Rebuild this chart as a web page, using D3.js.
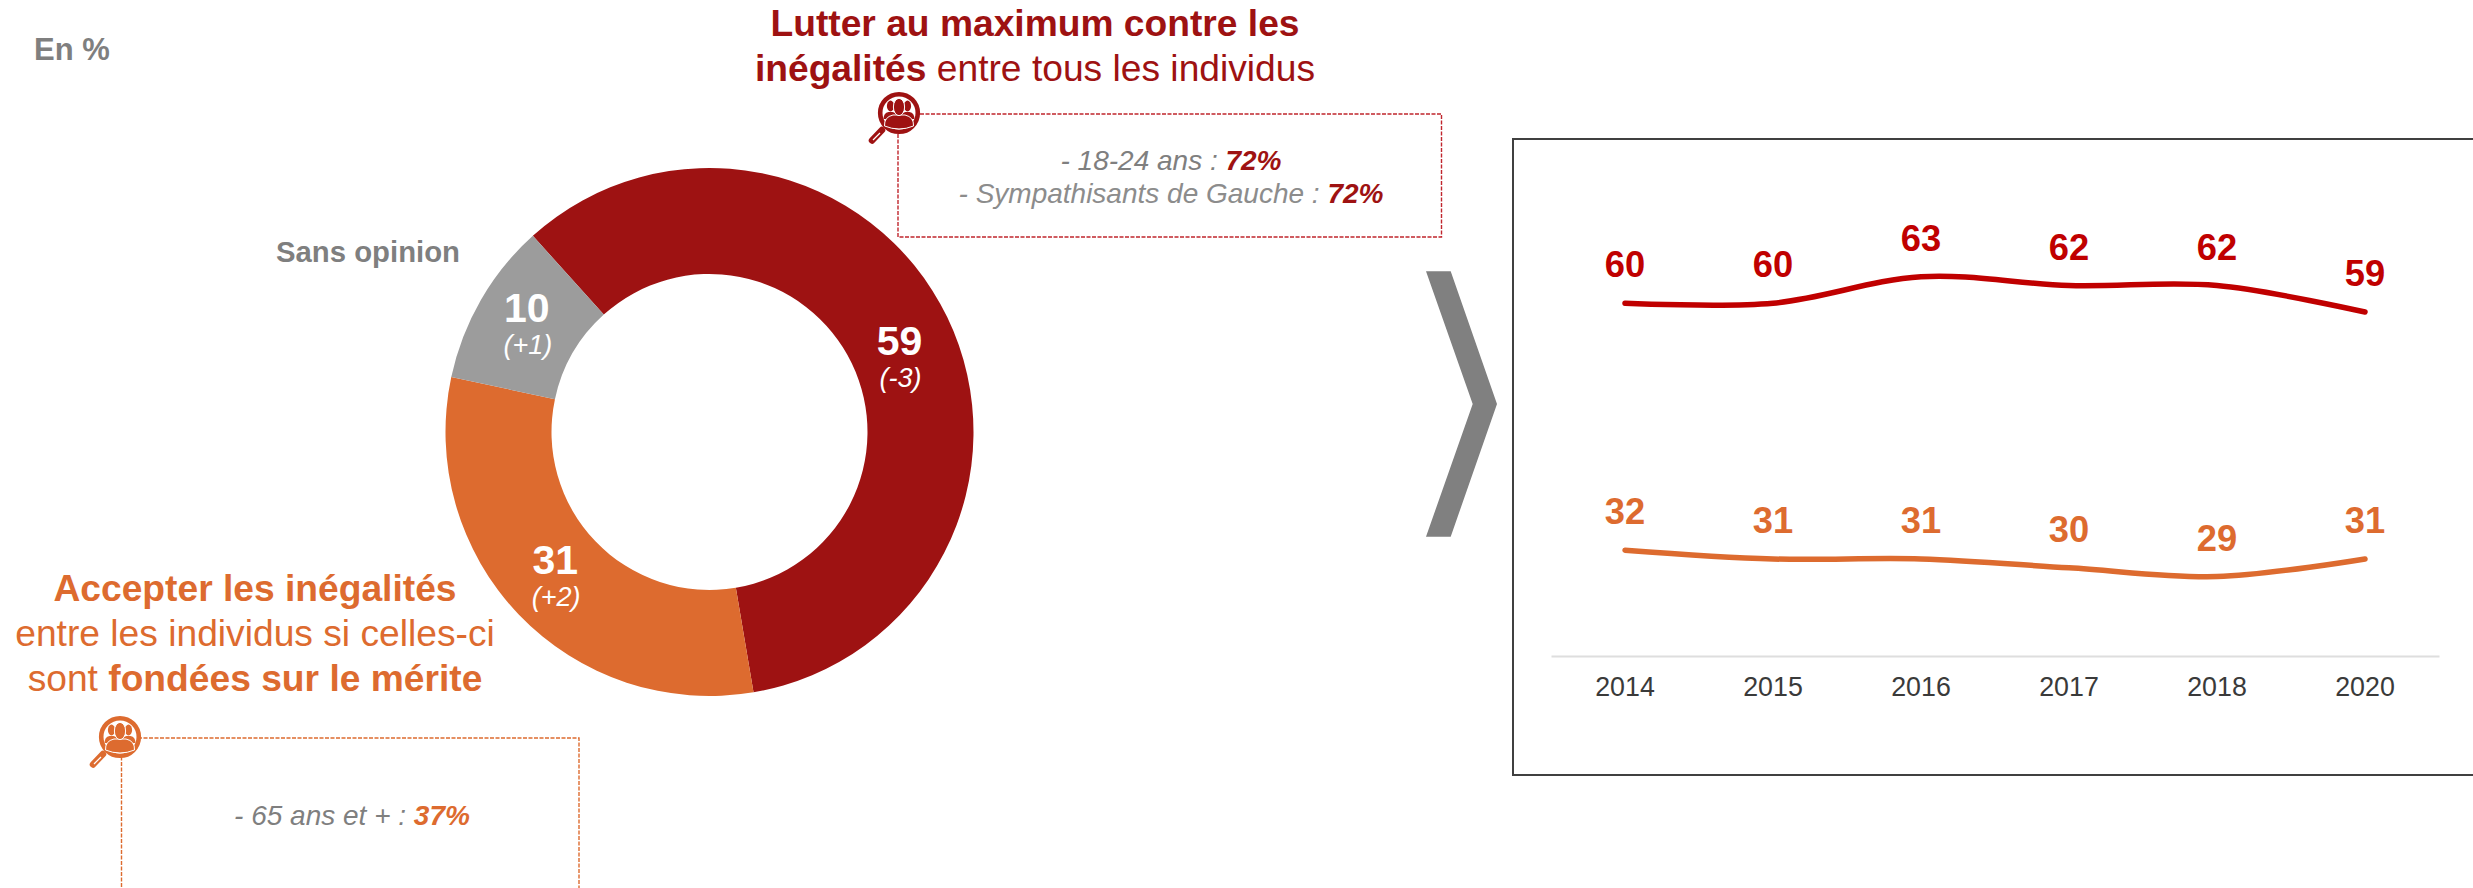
<!DOCTYPE html>
<html lang="fr">
<head>
<meta charset="utf-8">
<title>Inégalités</title>
<script src="https://cdn.jsdelivr.net/npm/d3@7"></script>
<style>
    html, body { margin: 0; padding: 0; background: #fff; overflow: hidden; }
    text { font-family: "Liberation Sans", Arial, sans-serif; }
</style>
</head>
<body>
<div id="chart"></div>
<script>
// Donut data (%)
const donutLabels = ["Lutter", "Accepter", "Sans opinion"];
const donutValues = [59, 31, 10];
const donutChanges = ["(-3)", "(+2)", "(+1)"];

// Trend data (%)
const years = ["2014", "2015", "2016", "2017", "2018", "2020"];
const lutterSeries = [60, 60, 63, 62, 62, 59];
const accepterSeries = [32, 31, 31, 30, 29, 31];

const width = 2473, height = 888;
const red = "#9e1212", orange = "#dd6b2f", grey = "#9c9c9c";
const lineRed = "#c00000";

const svg = d3.select("#chart")
              .append("svg")
              .attr("width", width)
              .attr("height", height)
              .style("display", "block");

// Writes one line of text made of several styled runs
function richText(x, y, size, runs, anchor = "middle") {
    const t = svg.append("text")
                 .attr("x", x)
                 .attr("y", y)
                 .attr("font-size", size)
                 .attr("text-anchor", anchor);
    runs.forEach(r => {
        t.append("tspan")
         .attr("fill", r.color)
         .attr("font-weight", r.bold ? "bold" : "normal")
         .attr("font-style", r.italic ? "italic" : "normal")
         .text(r.text);
    });
    return t;
}

// Magnifying glass with people, centred on the corner of a callout box
function drawIcon(cx, cy, color) {
    const g = svg.append("g").attr("transform", `translate(${cx},${cy})`);
    g.append("line")
     .attr("x1", -17).attr("y1", 17).attr("x2", -27).attr("y2", 27.5)
     .attr("stroke", color).attr("stroke-width", 6.5).attr("stroke-linecap", "round");
    g.append("line")
     .attr("x1", -19).attr("y1", 20).attr("x2", -26).attr("y2", 27)
     .attr("stroke", "#fff").attr("stroke-width", 1.2);
    g.append("circle")
     .attr("r", 18.8).attr("fill", "#fff")
     .attr("stroke", color).attr("stroke-width", 4.6);
    // two people behind, one in front
    [-8.5, 8.5].forEach(dx => {
        g.append("ellipse")
         .attr("cx", dx).attr("cy", -7).attr("rx", 3.6).attr("ry", 5.4)
         .attr("fill", color);
        g.append("path")
         .attr("d", `M${dx - 7},6 Q${dx - 7},0 ${dx - 2},-1 L${dx + 2},-1 Q${dx + 7},0 ${dx + 7},6 Z`)
         .attr("fill", color);
    });
    g.append("path")
     .attr("d", "M-14.5,13 Q-15,4 -6,2 L6,2 Q15,4 14.5,13 Q0,19 -14.5,13 Z")
     .attr("fill", color).attr("stroke", "#fff").attr("stroke-width", 1);
    g.append("ellipse")
     .attr("cx", 0).attr("cy", -6).attr("rx", 5.6).attr("ry", 8.6)
     .attr("fill", color).attr("stroke", "#fff").attr("stroke-width", 1);
}

function drawBox(x, y, w, h, color) {
    svg.append("rect")
       .attr("x", x).attr("y", y).attr("width", w).attr("height", h)
       .attr("fill", "none")
       .attr("stroke", color)
       .attr("stroke-width", 1.4)
       .attr("stroke-dasharray", "4 1.5");
}

// En %
richText(34, 60, 31, [{ text: "En %", color: "#7f7f7f", bold: true }], "start");

// Donut
const donutG = svg.append("g").attr("transform", "translate(709.5,432)");
const pie = d3.pie().sort(null).startAngle(-42 * Math.PI / 180).endAngle(318 * Math.PI / 180);
const arc = d3.arc().innerRadius(158).outerRadius(264);
const donutColor = d3.scaleOrdinal().domain(donutLabels).range([red, orange, grey]);
const arcs = pie(donutValues);

donutG.selectAll("path")
      .data(arcs)
      .join("path")
      .attr("d", arc)
      .attr("fill", (d, i) => donutColor(donutLabels[i]));

// labels sit near the centroid, nudged like in the original
const labelNudge = [[0, 0], [-2, -19], [0, -20]];
donutG.selectAll("text.val")
      .data(arcs)
      .join("text")
      .attr("class", "val")
      .attr("text-anchor", "middle")
      .attr("x", (d, i) => arc.centroid(d)[0] + labelNudge[i][0])
      .attr("y", (d, i) => arc.centroid(d)[1] + labelNudge[i][1] + 15)
      .attr("fill", "#fff")
      .attr("font-weight", "bold")
      .attr("font-size", 41)
      .text(d => d.data);
donutG.selectAll("text.chg")
      .data(arcs)
      .join("text")
      .attr("class", "chg")
      .attr("text-anchor", "middle")
      .attr("x", (d, i) => arc.centroid(d)[0] + labelNudge[i][0] + 1)
      .attr("y", (d, i) => arc.centroid(d)[1] + labelNudge[i][1] + 47)
      .attr("fill", "#fff")
      .attr("font-style", "italic")
      .attr("font-size", 27)
      .text((d, i) => donutChanges[i]);

richText(368, 262, 29.3, [{ text: "Sans opinion", color: "#7f7f7f", bold: true }]);

// Top callout
richText(1035, 36, 37.2, [{ text: "Lutter au maximum contre les", color: red, bold: true }]);
richText(1035, 81, 37.2, [
    { text: "inégalités", color: red, bold: true },
    { text: " entre tous les individus", color: red }
]);
drawBox(898, 114, 543.5, 123, "#c0262d");
drawIcon(899, 113, red);
richText(1171, 170, 28, [
    { text: "- 18-24 ans : ", color: "#7f7f7f", italic: true },
    { text: "72%", color: red, bold: true, italic: true }
]);
richText(1171, 203, 28, [
    { text: "- Sympathisants de Gauche : ", color: "#8c8c8c", italic: true },
    { text: "72%", color: red, bold: true, italic: true }
]);

// Bottom callout
richText(255, 601, 37.2, [{ text: "Accepter les inégalités", color: orange, bold: true }]);
richText(255, 646, 37.2, [{ text: "entre les individus si celles-ci", color: orange }]);
richText(255, 691, 37.2, [
    { text: "sont ", color: orange },
    { text: "fondées sur le mérite", color: orange, bold: true }
]);
drawBox(121.5, 738, 457.5, 200, orange);
drawIcon(120, 737, orange);
richText(352, 825, 28, [
    { text: "- 65 ans et + : ", color: "#7f7f7f", italic: true },
    { text: "37%", color: orange, bold: true, italic: true }
]);

// Chevron
svg.append("path")
   .attr("d", "M1426,271.3 L1450.7,271.3 L1497,404 L1450.7,536.7 L1426,536.7 L1472.7,404 Z")
   .attr("fill", "#808080");

// Trend panel (runs off the right edge of the page)
svg.append("rect")
   .attr("x", 1513).attr("y", 139)
   .attr("width", 1000).attr("height", 636)
   .attr("fill", "none")
   .attr("stroke", "#404040")
   .attr("stroke-width", 2);

const x = d3.scaleBand().domain(years).range([1551, 2439]);
const y = d3.scaleLinear().domain([20, 70]).range([656, 215]);
const xPos = d => x(d) + x.bandwidth() / 2;

const xAxis = svg.append("g")
                 .attr("transform", "translate(0,656)")
                 .call(d3.axisBottom(x).tickSize(0).tickPadding(21));
xAxis.select(".domain").attr("stroke", "#dedede").attr("stroke-width", 2);
xAxis.selectAll("text")
     .attr("font-family", "Liberation Sans")
     .attr("font-size", 26.8)
     .attr("fill", "#3a3a3a");

const line = d3.line()
               .x((d, i) => xPos(years[i]))
               .y(d => y(d))
               .curve(d3.curveCardinal.tension(0));

[[lutterSeries, lineRed], [accepterSeries, orange]].forEach(([series, color]) => {
    svg.append("path")
       .attr("d", line(series))
       .attr("fill", "none")
       .attr("stroke", color)
       .attr("stroke-width", 5.5)
       .attr("stroke-linecap", "round");
    svg.append("g")
       .selectAll("text")
       .data(series)
       .join("text")
       .attr("x", (d, i) => xPos(years[i]))
       .attr("y", d => y(d) - 26)
       .attr("text-anchor", "middle")
       .attr("font-weight", "bold")
       .attr("font-size", 36.3)
       .attr("fill", color)
       .text(d => d);
});
</script>
</body>
</html>
